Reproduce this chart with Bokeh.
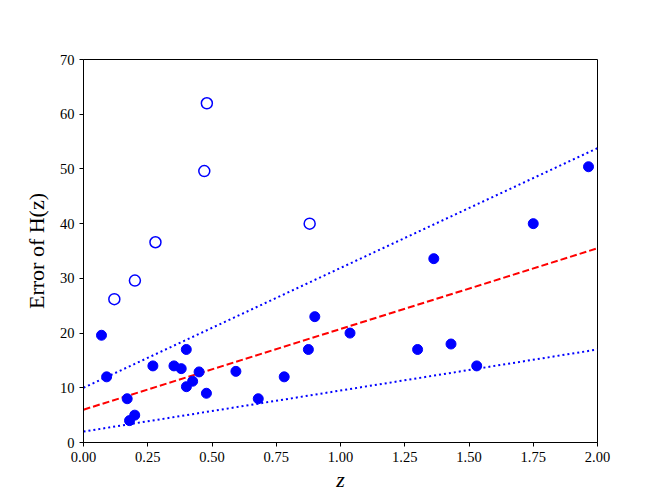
import numpy as np
from bokeh.plotting import figure
from bokeh.models import FixedTicker, NumeralTickFormatter, Range1d
from bokeh.embed import file_html
from bokeh.resources import INLINE

# filled points (z, error of H(z))
z_filled = [0.07, 0.09, 0.17, 0.1791, 0.1993, 0.27, 0.352, 0.3802, 0.4, 0.4004, 0.4247,
            0.4497, 0.4783, 0.593, 0.68, 0.781, 0.875, 0.9, 1.037, 1.3, 1.363, 1.43,
            1.53, 1.75, 1.965]
err_filled = [19.6, 12.0, 8.0, 4.0, 5.0, 14.0, 14.0, 13.5, 17.0, 10.2, 11.2,
              12.9, 9.0, 13.0, 8.0, 12.0, 17.0, 23.0, 20.0, 17.0, 33.6, 18.0,
              14.0, 40.0, 50.4]
# open points
z_open = [0.12, 0.2, 0.28, 0.47, 0.48, 0.88]
err_open = [26.2, 29.6, 36.6, 49.6, 62.0, 40.0]

# straight lines: intercept, slope
fit_names = ["upper", "mean", "lower"]
fit_intercept = [10.0, 6.0, 2.0]
fit_slope = [21.9, 14.75, 7.5]

x_ticks = [0, 0.25, 0.5, 0.75, 1.0, 1.25, 1.5, 1.75, 2.0]
y_ticks = [0, 10, 20, 30, 40, 50, 60, 70]

FONT = "Liberation Serif"

p = figure(frame_width=514, frame_height=383, output_backend="svg", toolbar_location=None,
           x_range=Range1d(0, 2), y_range=Range1d(0, 70),
           min_border_left=83, min_border_right=50, min_border_top=59, min_border_bottom=50)
p.grid.visible = False
p.outline_line_color = "black"
p.outline_line_width = 1
p.background_fill_color = "white"
p.border_fill_color = "white"

zz = np.array([0.0, 2.0])
blue = "#0000ff"
red = "#ff0000"
for name, a, b in zip(fit_names, fit_intercept, fit_slope):
    yy = a + b * zz
    if name == "mean":
        p.line(zz, yy, line_color=red, line_width=2, line_dash="7 3")
    else:
        p.line(zz, yy, line_color=blue, line_width=2, line_dash="2 3")

p.scatter(z_filled, err_filled, size=10, fill_color=blue, line_color=blue, marker="circle")
p.scatter(z_open, err_open, size=11, fill_color="white", line_color=blue, line_width=1.5,
          marker="circle")

for ax in (p.xaxis, p.yaxis):
    ax.major_label_text_font = FONT
    ax.major_label_text_font_size = "14.5px"
    ax.major_label_text_color = "black"
    ax.axis_line_color = "black"
    ax.major_tick_line_color = "black"
    ax.major_tick_out = 4
    ax.major_tick_in = 0
    ax.minor_tick_line_color = None
    ax.axis_label_text_font = FONT
    ax.axis_label_text_font_size = "22px"
    ax.axis_label_text_color = "black"

p.xaxis.ticker = FixedTicker(ticks=x_ticks)
p.yaxis.ticker = FixedTicker(ticks=y_ticks)
p.xaxis.formatter = NumeralTickFormatter(format="0.00")
p.xaxis.axis_label = "z"
p.xaxis.axis_label_text_font_style = "italic"
p.xaxis.axis_label_standoff = 2
p.yaxis.axis_label = "Error of H(z)"
p.yaxis.axis_label_text_font_style = "normal"
p.yaxis.axis_label_standoff = 8

open("out.html", "w").write(file_html(p, INLINE))
